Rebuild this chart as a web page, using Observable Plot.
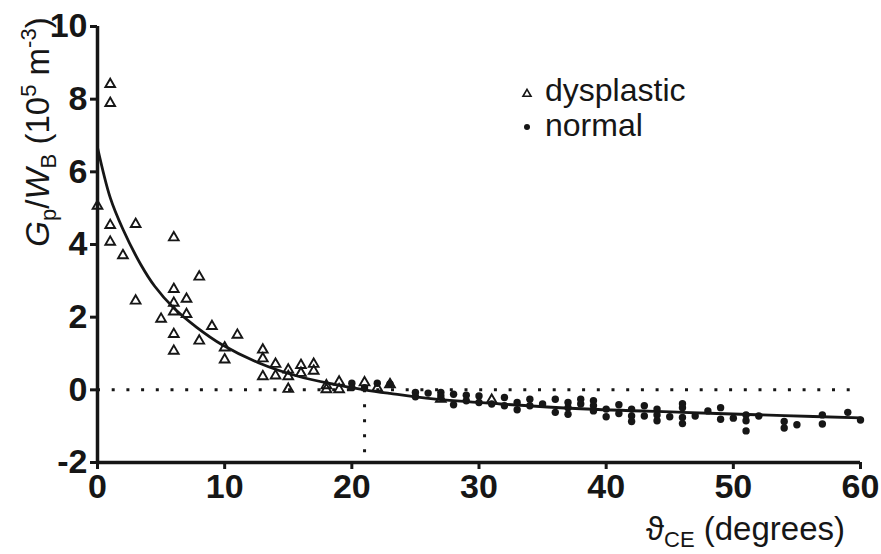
<!DOCTYPE html>
<html><head><meta charset="utf-8">
<script src="https://cdn.jsdelivr.net/npm/d3@7"></script>
<script src="https://cdn.jsdelivr.net/npm/@observablehq/plot@0.6"></script>
<style>
body{margin:0;background:#fff;}
#wrap{position:relative;width:881px;height:554px;}
</style></head><body><div id="wrap"></div>
<script>
// ---- data ----
const xTicks = [0, 10, 20, 30, 40, 50, 60];
const yTicks = [-2, 0, 2, 4, 6, 8, 10];

// dysplastic (open triangles)
const dysX = [0, 1, 1, 1, 1, 2, 3, 3, 5, 6, 6, 6, 6, 6, 6, 7, 7, 8, 8, 9, 10, 10, 11,
  13, 13, 13, 14, 14, 15, 15, 15, 16, 16, 17, 17, 18, 18, 19, 19, 21, 22, 23, 27, 31];
const dysY = [5.06, 8.41, 7.89, 4.53, 4.07, 3.70, 4.56, 2.45, 1.95, 4.19, 2.77, 2.39, 2.15, 1.53, 1.07, 2.50, 2.08, 3.11, 1.35, 1.75, 1.16, 0.83, 1.51,
  1.10, 0.86, 0.37, 0.71, 0.39, 0.55, 0.37, 0.02, 0.68, 0.46, 0.71, 0.52, 0.12, 0.01, 0.22, 0.01, 0.20, 0.05, 0.15, -0.25, -0.28];

// normal (filled dots)
const normX = [20, 20, 21, 22, 23, 25, 25, 26, 27, 27, 28, 28, 29, 29, 30, 30, 31, 32, 32, 33, 33, 34, 34, 35, 36, 36,
  37, 37, 37, 38, 38, 39, 39, 39, 40, 40, 41, 41, 42, 42, 42, 43, 43, 44, 44, 44, 45, 46, 46, 46, 46, 47, 48, 49, 49,
  50, 51, 51, 51, 52, 54, 54, 55, 57, 57, 59, 60];
const normY = [0.18, 0.06, 0.06, 0.18, 0.16, -0.07, -0.19, -0.09, -0.07, -0.17, -0.12, -0.41, -0.15, -0.30, -0.17, -0.35, -0.39, -0.21, -0.44, -0.35, -0.55, -0.26, -0.44, -0.39, -0.26, -0.62,
  -0.35, -0.49, -0.67, -0.26, -0.39, -0.30, -0.44, -0.58, -0.53, -0.74, -0.41, -0.65, -0.53, -0.72, -0.87, -0.44, -0.72, -0.53, -0.69, -0.85, -0.74, -0.38, -0.49, -0.76, -0.93, -0.72, -0.58, -0.49, -0.81,
  -0.78, -0.69, -0.85, -1.13, -0.72, -0.87, -1.05, -0.96, -0.69, -0.94, -0.62, -0.83];

// fitted curve, read at points along the line
const fitX = [0, 1, 2, 3.4, 4.5, 6, 7.8, 9.8, 12.7, 15.7, 18.6, 21, 23, 26.4, 31.7, 38, 46, 54, 60];
const fitY = [6.67, 5.29, 4.42, 3.45, 2.85, 2.25, 1.72, 1.24, 0.74, 0.38, 0.15, 0.0, -0.10, -0.25, -0.39, -0.52, -0.62, -0.71, -0.77];

const dys = dysX.map((x, i) => ({x, y: dysY[i]}));
const norm = normX.map((x, i) => ({x, y: normY[i]}));
const fit = fitX.map((x, i) => ({x, y: fitY[i]}));

const ink = "#161616";
const font = '"Liberation Sans", Arial, sans-serif';

const plot = Plot.plot({
  width: 881, height: 554,
  marginLeft: 97, marginRight: 21, marginTop: 26, marginBottom: 92,
  x: {domain: [0, 60]},
  y: {domain: [-2, 10]},
  style: {fontFamily: font, color: ink, background: "#fff", overflow: "visible"},
  marks: [
    Plot.ruleY([0], {stroke: ink, strokeWidth: 3, strokeDasharray: "3,11.7"}),
    Plot.ruleX([21], {y1: 0, y2: -2, stroke: ink, strokeWidth: 3, strokeDasharray: "3,12"}),
    Plot.axisX(xTicks, {tickSize: 7, tickPadding: 4, fontSize: 34, fontWeight: "bold", strokeWidth: 3, tickFormat: d => String(d), label: null}),
    Plot.axisY(yTicks, {tickSize: 7, tickPadding: 3, fontSize: 34, fontWeight: "bold", strokeWidth: 3, tickFormat: d => String(d), label: null}),
    Plot.ruleX([0], {stroke: ink, strokeWidth: 3.5}),
    Plot.ruleY([-2], {stroke: ink, strokeWidth: 3.5}),
    Plot.line(fit, {x: "x", y: "y", curve: "catmull-rom", stroke: ink, strokeWidth: 2.8}),
    Plot.dot(norm, {x: "x", y: "y", r: 3.7, fill: ink, stroke: "none"}),
    Plot.dot(dys, {x: "x", y: "y", symbol: "triangle", r: 3.6, fill: "none", stroke: ink, strokeWidth: 1.9})
  ]
});
document.getElementById("wrap").appendChild(plot);

const svg = d3.select(plot);
// y-axis title
const yl = svg.append("text")
  .attr("transform", "translate(49,132) rotate(-90)")
  .attr("text-anchor", "middle")
  .attr("font-family", font).attr("font-size", 33).attr("fill", ink);
yl.append("tspan").attr("font-style", "italic").text("G");
yl.append("tspan").attr("font-size", 22).attr("dy", 7).text("p");
yl.append("tspan").attr("dy", -7).text("/");
yl.append("tspan").attr("font-style", "italic").text("W");
yl.append("tspan").attr("font-size", 22).attr("dy", 7).text("B");
yl.append("tspan").attr("dy", -7).text(" (10");
yl.append("tspan").attr("font-size", 22).attr("dy", -13).text("5");
yl.append("tspan").attr("dy", 13).text(" m");
yl.append("tspan").attr("font-size", 22).attr("dy", -13).text("-3");
yl.append("tspan").attr("dy", 13).text(")");

// x-axis title
const xl = svg.append("text")
  .attr("x", 845).attr("y", 540)
  .attr("text-anchor", "end")
  .attr("font-family", font).attr("font-size", 33).attr("fill", ink);
xl.append("tspan").text("\u03D1");
xl.append("tspan").attr("font-size", 22).attr("dy", 7).text("CE");
xl.append("tspan").attr("dy", -7).text(" (degrees)");

// legend
const lg = svg.append("g").attr("font-family", font).attr("font-size", 32).attr("fill", ink).attr("text-anchor", "start");
lg.append("path").attr("d", d3.symbol(d3.symbolTriangle, 28)()).attr("transform", "translate(527,94)")
  .attr("fill", "none").attr("stroke", ink).attr("stroke-width", 1.6);
lg.append("text").attr("x", 545).attr("y", 101).text("dysplastic");
lg.append("circle").attr("cx", 527).attr("cy", 127).attr("r", 3).attr("fill", ink);
lg.append("text").attr("x", 545).attr("y", 136).text("normal");
</script>
</body></html>
